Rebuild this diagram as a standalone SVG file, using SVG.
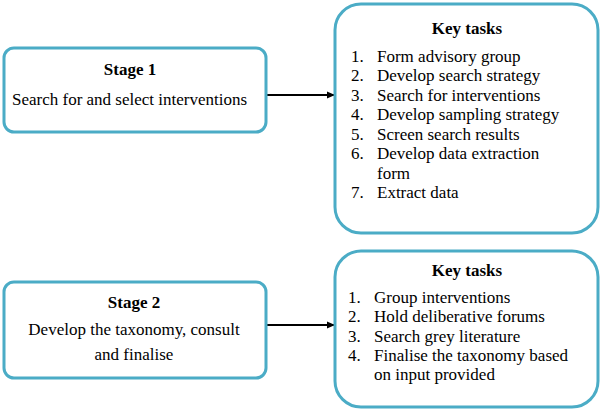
<svg xmlns="http://www.w3.org/2000/svg" width="600" height="411" viewBox="0 0 600 411">
<defs>
<marker id="ah" markerWidth="8" markerHeight="8" refX="7" refY="4" orient="auto" markerUnits="userSpaceOnUse">
<path d="M0,0.5 L8,4 L0,7.5 Z" fill="#000"/>
</marker>
</defs>
<rect width="600" height="411" fill="#fff"/>
<g id="connectors" stroke="#000" stroke-width="2" fill="none">
<line x1="266" y1="95" x2="334" y2="95" marker-end="url(#ah)"/>
<line x1="266" y1="325" x2="334" y2="325" marker-end="url(#ah)"/>
</g>
<g id="stage1">
<rect x="4" y="48" width="262" height="84" rx="10" fill="#fff" stroke="#4BACC6" stroke-width="3"/>
<text x="130" y="75" style="font-family:'Liberation Serif','Times New Roman',serif;font-size:17px;font-weight:bold" text-anchor="middle">Stage 1</text>
<text x="12" y="105" style="font-family:'Liberation Serif','Times New Roman',serif;font-size:17px">Search for and select interventions</text>
</g>
<g id="tasks1">
<rect x="335" y="4" width="263" height="229" rx="26" fill="#fff" stroke="#4BACC6" stroke-width="3"/>
<text x="467" y="34" style="font-family:'Liberation Serif','Times New Roman',serif;font-size:17px;font-weight:bold" text-anchor="middle">Key tasks</text>
<text x="351" y="62" style="font-family:'Liberation Serif','Times New Roman',serif;font-size:17px">1.</text><text x="377" y="62" style="font-family:'Liberation Serif','Times New Roman',serif;font-size:17px">Form advisory group</text>
<text x="351" y="81" style="font-family:'Liberation Serif','Times New Roman',serif;font-size:17px">2.</text><text x="377" y="81" style="font-family:'Liberation Serif','Times New Roman',serif;font-size:17px">Develop search strategy</text>
<text x="351" y="101" style="font-family:'Liberation Serif','Times New Roman',serif;font-size:17px">3.</text><text x="377" y="101" style="font-family:'Liberation Serif','Times New Roman',serif;font-size:17px">Search for interventions</text>
<text x="351" y="120" style="font-family:'Liberation Serif','Times New Roman',serif;font-size:17px">4.</text><text x="377" y="120" style="font-family:'Liberation Serif','Times New Roman',serif;font-size:17px">Develop sampling strategy</text>
<text x="351" y="140" style="font-family:'Liberation Serif','Times New Roman',serif;font-size:17px">5.</text><text x="377" y="140" style="font-family:'Liberation Serif','Times New Roman',serif;font-size:17px">Screen search results</text>
<text x="351" y="159" style="font-family:'Liberation Serif','Times New Roman',serif;font-size:17px">6.</text><text x="377" y="159" style="font-family:'Liberation Serif','Times New Roman',serif;font-size:17px">Develop data extraction</text>
<text x="377" y="179" style="font-family:'Liberation Serif','Times New Roman',serif;font-size:17px">form</text>
<text x="351" y="198" style="font-family:'Liberation Serif','Times New Roman',serif;font-size:17px">7.</text><text x="377" y="198" style="font-family:'Liberation Serif','Times New Roman',serif;font-size:17px">Extract data</text>
</g>
<g id="stage2">
<rect x="4" y="282" width="262" height="96" rx="10" fill="#fff" stroke="#4BACC6" stroke-width="3"/>
<text x="134" y="308" style="font-family:'Liberation Serif','Times New Roman',serif;font-size:17px;font-weight:bold" text-anchor="middle">Stage 2</text>
<text x="134" y="335" style="font-family:'Liberation Serif','Times New Roman',serif;font-size:17px" text-anchor="middle">Develop the taxonomy, consult</text>
<text x="134" y="360" style="font-family:'Liberation Serif','Times New Roman',serif;font-size:17px" text-anchor="middle">and finalise</text>
</g>
<g id="tasks2">
<rect x="335" y="251" width="263" height="156" rx="26" fill="#fff" stroke="#4BACC6" stroke-width="3"/>
<text x="467" y="276" style="font-family:'Liberation Serif','Times New Roman',serif;font-size:17px;font-weight:bold" text-anchor="middle">Key tasks</text>
<text x="348" y="303" style="font-family:'Liberation Serif','Times New Roman',serif;font-size:17px">1.</text><text x="374" y="303" style="font-family:'Liberation Serif','Times New Roman',serif;font-size:17px">Group interventions</text>
<text x="348" y="322" style="font-family:'Liberation Serif','Times New Roman',serif;font-size:17px">2.</text><text x="374" y="322" style="font-family:'Liberation Serif','Times New Roman',serif;font-size:17px">Hold deliberative forums</text>
<text x="348" y="342" style="font-family:'Liberation Serif','Times New Roman',serif;font-size:17px">3.</text><text x="374" y="342" style="font-family:'Liberation Serif','Times New Roman',serif;font-size:17px">Search grey literature</text>
<text x="348" y="361" style="font-family:'Liberation Serif','Times New Roman',serif;font-size:17px">4.</text><text x="374" y="361" style="font-family:'Liberation Serif','Times New Roman',serif;font-size:17px">Finalise the taxonomy based</text>
<text x="374" y="380" style="font-family:'Liberation Serif','Times New Roman',serif;font-size:17px">on input provided</text>
</g>
</svg>
